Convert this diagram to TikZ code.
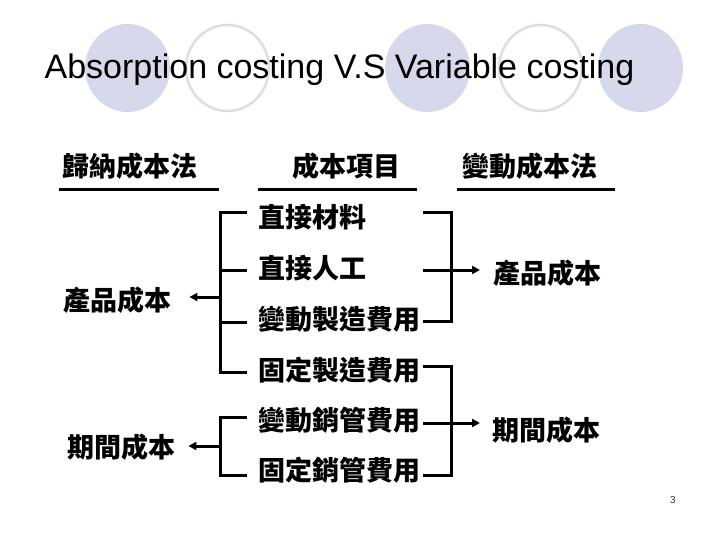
\documentclass[tikz,border=0pt]{standalone}
\usepackage{fontspec}
\setmainfont{Liberation Sans}
\newfontfamily\cjk{Noto Sans CJK TC}
\usetikzlibrary{arrows.meta}
\definecolor{lav}{RGB}{216,216,236}
\definecolor{ringcol}{RGB}{221,221,233}
\begin{document}
\begin{tikzpicture}[x=1pt,y=-1pt,
  cj/.style={font=\cjk\bfseries\fontsize{27}{30}\selectfont, inner sep=0pt},
  ln/.style={line width=3pt},
  arr/.style={line width=3pt,-{Triangle[length=8pt,width=8pt]}},
  disc/.style={fill=lav, draw=none},
  ring/.style={draw=ringcol, line width=2.5pt},
  hline/.style={line width=3pt}]
\useasboundingbox (0,0) rectangle (720,540);
\fill[white] (0,0) rectangle (720,540);
% decorative ellipses
\path[disc] (127.5,68) ellipse [x radius=42.5pt, y radius=44pt];
\path[ring] (227.5,68) ellipse [x radius=41.5pt, y radius=43pt];
\path[disc] (427.5,68) ellipse [x radius=42.5pt, y radius=44pt];
\path[ring] (540.5,68) ellipse [x radius=41.5pt, y radius=43pt];
\path[disc] (640.5,68) ellipse [x radius=42.5pt, y radius=44pt];
% title
\node[anchor=base, inner sep=0pt, font=\fontsize{34}{40}\selectfont] (title) at (339.5,79) {Absorption costing V.S Variable costing};
% headers
\node[cj, anchor=west] (h1) at (62,166) {歸納成本法};
\node[cj, anchor=west] (h2) at (292,166) {成本項目};
\node[cj, anchor=west] (h3) at (462,166) {變動成本法};
\draw[hline] (59,190) -- (219,190);
\draw[hline] (258,190) -- (417,190);
\draw[hline] (457,190) -- (615,190);
% middle items
\node[cj, anchor=west] (m1) at (258,217) {直接材料};
\node[cj, anchor=west] (m2) at (258,268) {直接人工};
\node[cj, anchor=west] (m3) at (258,319) {變動製造費用};
\node[cj, anchor=west] (m4) at (258,370) {固定製造費用};
\node[cj, anchor=west] (m5) at (258,420) {變動銷管費用};
\node[cj, anchor=west] (m6) at (258,470) {固定銷管費用};
% side items
\node[cj, anchor=west] (P1) at (63,300) {產品成本};
\node[cj, anchor=west] (P2) at (67,447) {期間成本};
\node[cj, anchor=west] (Q1) at (493,273) {產品成本};
\node[cj, anchor=west] (Q2) at (492,430) {期間成本};
% bracket coordinates
\foreach \n/\y in {a/213,b/270,c/322,d/372,e/417,f/475}{
  \coordinate (lo\n) at (220,\y); \coordinate (li\n) at (247,\y);}
\foreach \n/\y in {a/213,b/270,c/321,d/366,e/423,f/475}{
  \coordinate (ri\n) at (423,\y); \coordinate (ro\n) at (451,\y);}
\coordinate (lm1) at (220,297);
\coordinate (lm2) at (220,446);
% left brackets
\draw[ln] (lia) -- (loa) -- (lod) -- (lid);
\draw[ln] (lob) -- (lib);
\draw[ln] (loc) -- (lic);
\draw[arr, shorten >=18pt] (lm1) -- (lm1 -| P1.east);
\draw[ln] (lie) -- (loe) -- (lof) -- (lif);
\draw[arr, shorten >=13pt] (lm2) -- (lm2 -| P2.east);
% right brackets
\draw[ln] (ria) -- (roa) -- (roc) -- (ric);
\draw[arr, shorten >=13pt] (rib) -- (rib -| Q1.west);
\draw[ln] (rid) -- (rod) -- (rof) -- (rif);
\draw[arr, shorten >=12pt] (rie) -- (rie -| Q2.west);
% page number
\node[font=\fontsize{10}{12}\selectfont, text=black!80, inner sep=0pt] (pg) at (673,500) {3};
\end{tikzpicture}
\end{document}
